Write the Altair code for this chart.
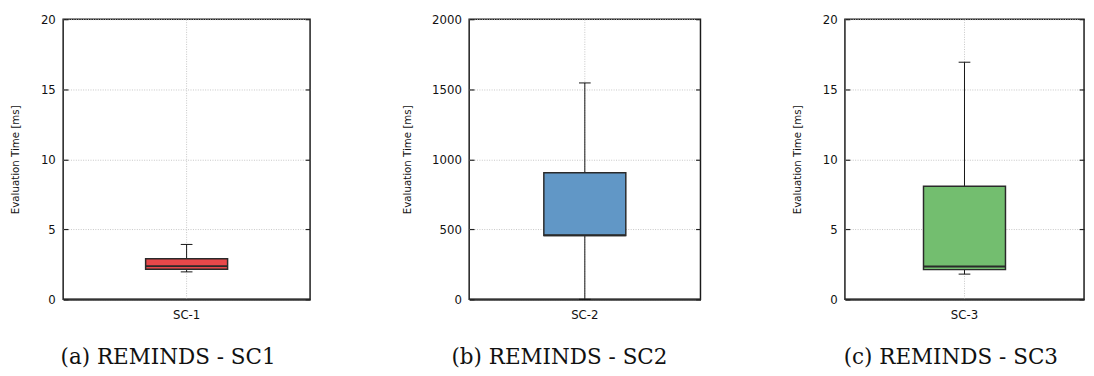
import altair as alt
import pandas as pd

categories = ["SC-1", "SC-2", "SC-3"]
mins = [1.96, 0.0, 1.8]
q1s = [2.15, 455.0, 2.12]
medians = [2.37, 458.0, 2.35]
q3s = [2.9, 904.0, 8.08]
maxs = [3.92, 1545.0, 16.93]
y_max = [20, 2000, 20]
y_ticks = [[0, 5, 10, 15, 20], [0, 500, 1000, 1500, 2000], [0, 5, 10, 15, 20]]
fills = ["#E8484A", "#6197C6", "#73BE6F"]
captions = ["(a) REMINDS - SC1", "(b) REMINDS - SC2", "(c) REMINDS - SC3"]
y_title = "Evaluation Time [ms]"

widths = [253, 237, 245]
caption_dx = [-19, -26, -14]
PLOT_H = 287
GRID = "#c4c4c4"


def panel(i):
    df = pd.DataFrame({
        "cat": [categories[i]],
        "lo": [mins[i]],
        "q1": [q1s[i]],
        "med": [medians[i]],
        "q3": [q3s[i]],
        "hi": [maxs[i]],
    })
    ysc = alt.Scale(domain=[0, y_max[i]], nice=False, zero=True)
    xenc = alt.X(
        "cat:N",
        title=None,
        axis=alt.Axis(
            labelAngle=0, labelFont="DejaVu Sans", labelFontSize=12,
            labelColor="#111", labelPadding=11, ticks=False, tickSize=0,
            domain=True, domainColor="#333", domainWidth=2,
            grid=True, gridColor=GRID, gridDash=[1, 1.5], gridWidth=1,
        ),
    )
    base = alt.Chart(df).encode(x=xenc)

    main_axis = alt.Axis(
        values=y_ticks[i], format="d", title=y_title, titleFont="DejaVu Sans",
        titleFontSize=10.5, titleFontWeight="normal", titleColor="#111",
        titlePadding=20, labelFont="DejaVu Sans", labelFontSize=12,
        labelColor="#111", labelPadding=8, ticks=False, tickSize=0,
        domain=False, grid=True, gridColor=GRID, gridDash=[1, 1.5], gridWidth=1,
        orient="left",
    )
    left_ticks = alt.Axis(
        values=y_ticks[i], title=None, labels=False, domain=False, grid=False,
        ticks=True, tickSize=5, tickColor="#222", tickWidth=1.2,
        orient="right", offset=-widths[i],
    )
    right_ticks = alt.Axis(
        values=y_ticks[i], title=None, labels=False, domain=False, grid=False,
        ticks=True, tickSize=5, tickColor="#222", tickWidth=1.2,
        orient="left", offset=-widths[i],
    )

    whisker = base.mark_rule(color="#111", strokeWidth=1).encode(
        y=alt.Y("lo:Q", scale=ysc, axis=main_axis), y2="hi:Q"
    )
    cap_lo = base.mark_tick(size=12, thickness=1, color="#111", opacity=1).encode(
        y=alt.Y("lo:Q", scale=ysc, axis=left_ticks)
    )
    cap_hi = base.mark_tick(size=12, thickness=1, color="#111", opacity=1).encode(
        y=alt.Y("hi:Q", scale=ysc, axis=right_ticks)
    )
    box = base.mark_bar(size=84, fill=fills[i], stroke="#2a2a2a", strokeWidth=1.5,
                        opacity=1).encode(
        y=alt.Y("q1:Q", scale=ysc, axis=None), y2="q3:Q"
    )
    med = base.mark_tick(size=84, thickness=2, color="#2a2a2a", opacity=1).encode(
        y=alt.Y("med:Q", scale=ysc, axis=None)
    )
    return alt.layer(whisker, cap_lo, cap_hi, box, med).resolve_scale(
        y="independent"
    ).properties(
        width=widths[i], height=PLOT_H,
        title=alt.TitleParams(
            captions[i], orient="bottom", anchor="middle", frame="group",
            font="DejaVu Serif", fontSize=22, fontWeight="normal", color="#111",
            offset=27, dx=caption_dx[i],
        ),
    )


chart = alt.hconcat(panel(0), panel(1), panel(2), spacing=91).properties(
    padding={"left": 1.5, "top": 0, "right": 0, "bottom": 0}
).configure(
    background="white",
    view=alt.ViewConfig(stroke="#1a1a1a", strokeWidth=1.5),
)

chart.save("out.html", embed_options={"renderer": "svg", "actions": False})
